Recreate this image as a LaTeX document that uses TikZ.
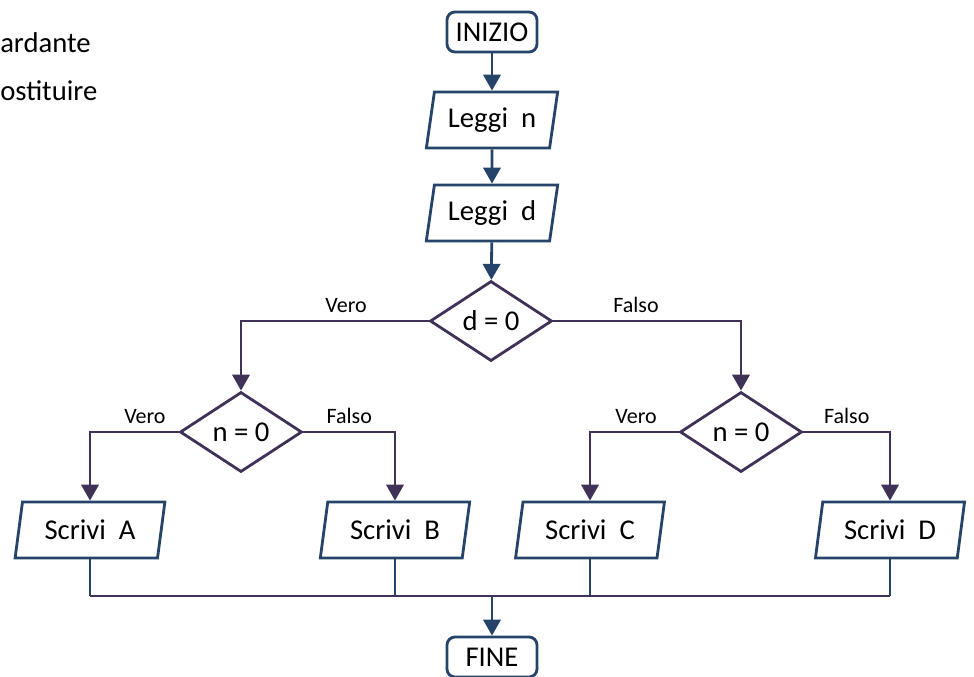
\documentclass[tikz,border=0pt]{standalone}
\usepackage{fontspec}
\setmainfont{Carlito}
\usepackage{xcolor}
\usepackage{tikz}
\usetikzlibrary{shapes.geometric,arrows.meta,positioning}

\definecolor{flowblue}{HTML}{26436A}
\definecolor{flowpurple}{HTML}{3F3256}

\begin{document}
\begin{tikzpicture}[x=0.75pt,y=-0.75pt]
            \tikzset{
                term/.style={
                    draw=flowblue,
                    line width=2.1pt,
                    rounded corners=6pt,
                    minimum width=67.5pt,
                    minimum height=30pt,
                    inner sep=0pt,
                    font=\fontsize{21.5}{25}\selectfont
                }
            }
            \tikzset{
                io/.style={
                    trapezium,
                    trapezium left angle=76,
                    trapezium right angle=104,
                    trapezium stretches=true,
                    draw=flowblue,
                    line width=2.1pt,
                    minimum height=42pt,
                    inner sep=0pt,
                    font=\fontsize{21.5}{25}\selectfont
                }
            }
            \tikzset{
                test/.style={
                    diamond,
                    draw=flowpurple,
                    line width=2.1pt,
                    minimum width=91.5pt,
                    minimum height=60pt,
                    inner sep=0pt,
                    font=\fontsize{21.5}{25}\selectfont
                }
            }
            \tikzset{
                blink/.style={
                    flowblue,
                    line width=2.1pt
                },
                plink/.style={
                    flowpurple,
                    line width=2.1pt
                },
                tip/.style={
                    -{Triangle[width=13pt,length=12pt]}
                },
                lab/.style={
                    above,
                    inner sep=5pt,
                    black,
                    font=\fontsize{16.5}{19}\selectfont
                }
            }

            \useasboundingbox (0,0) rectangle (974,676);

            \node[anchor=west, inner sep=0pt, font=\fontsize{21.5}{25}\selectfont] (t1) at (0,43) {ardante};
            \node[anchor=west, inner sep=0pt, font=\fontsize{21.5}{25}\selectfont] (t2) at (0,91) {ostituire};

            \node[term] (start) at (492,32) {INIZIO};
            \node[io, minimum width=99pt] (readn) at (492,120) {Leggi~ n};
            \node[io, minimum width=99pt] (readd) at (492,213) {Leggi~ d};
            \node[test] (dz) at (491,321) {d = 0};
            \node[test] (nzl) at (241,432) {n = 0};
            \node[test] (nzr) at (741,432) {n = 0};
            \node[io, minimum width=112.5pt] (wa) at (90,530) {Scrivi~ A};
            \node[io, minimum width=112.5pt] (wb) at (395,530) {Scrivi~ B};
            \node[io, minimum width=112.5pt] (wc) at (590,530) {Scrivi~ C};
            \node[io, minimum width=112.5pt] (wd) at (890,530) {Scrivi~ D};
            \node[term] (stop) at (492,657) {FINE};

            \coordinate (join) at (492,596);

            \draw[blink,tip] (start) -- (readn);
            \draw[blink,tip] (readn) -- (readd);
            \draw[blink,tip] (readd) -- (dz);

            \draw[plink,tip] (dz.west) -| node[lab, pos=0.22] {Vero} (nzl.north);
            \draw[plink,tip] (dz.east) -| node[lab, pos=0.22] {Falso} (nzr.north);

            \draw[plink,tip] (nzl.west) -| node[lab, pos=0.19] {Vero} (wa.north);
            \draw[plink,tip] (nzl.east) -| node[lab, pos=0.25] {Falso} (wb.north);
            \draw[plink,tip] (nzr.west) -| node[lab, pos=0.24] {Vero} (wc.north);
            \draw[plink,tip] (nzr.east) -| node[lab, pos=0.25] {Falso} (wd.north);

            \draw[blink] (wa.south) -- (wa.south |- join);
            \draw[blink] (wb.south) -- (wb.south |- join);
            \draw[blink] (wc.south) -- (wc.south |- join);
            \draw[blink] (wd.south) -- (wd.south |- join);
            \draw[plink] (wa.south |- join) -- (wd.south |- join);
            \draw[blink,tip] (join) -- (stop);
        \end{tikzpicture}
\end{document}
